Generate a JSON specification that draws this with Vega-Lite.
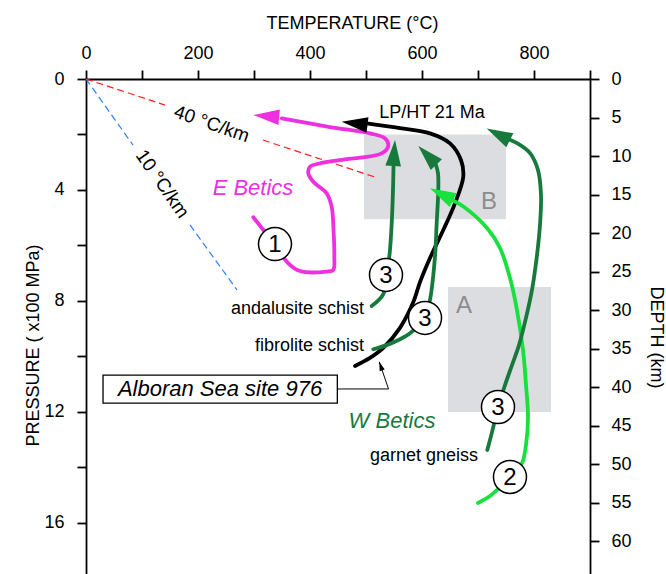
{
  "$schema": "https://vega.github.io/schema/vega-lite/v6.json",
  "width": 504,
  "height": 495,
  "autosize": {"type": "none"},
  "padding": {"left": 86, "top": 79, "right": 76, "bottom": 0},
  "config": {
    "view": {"stroke": null},
    "font": "Liberation Sans",
    "axis": {
      "labelFont": "Liberation Sans", "titleFont": "Liberation Sans",
      "labelFontSize": 18, "titleFontSize": 18, "titleFontWeight": "normal",
      "labelColor": "#000", "titleColor": "#000", "domainColor": "#000", "tickColor": "#000",
      "domainWidth": 1.8, "tickWidth": 1.8, "tickSize": 9, "grid": false, "labelOverlap": false, "labelFlush": false
    }
  },
  "datasets": {
    "paths": [
      {"path": "E", "suite": "E", "i": 1, "T": 298.7, "P": 4.98},
      {"path": "E", "suite": "E", "i": 2, "T": 337.5, "P": 5.98},
      {"path": "E", "suite": "E", "i": 3, "T": 361.3, "P": 6.64},
      {"path": "E", "suite": "E", "i": 4, "T": 382.1, "P": 6.92},
      {"path": "E", "suite": "E", "i": 5, "T": 429.8, "P": 6.94},
      {"path": "E", "suite": "E", "i": 6, "T": 441.6, "P": 6.88},
      {"path": "E", "suite": "E", "i": 7, "T": 443.4, "P": 6.40},
      {"path": "E", "suite": "E", "i": 8, "T": 442.0, "P": 5.44},
      {"path": "E", "suite": "E", "i": 9, "T": 438.7, "P": 4.60},
      {"path": "E", "suite": "E", "i": 10, "T": 429.8, "P": 4.12},
      {"path": "E", "suite": "E", "i": 11, "T": 405.9, "P": 3.70},
      {"path": "E", "suite": "E", "i": 12, "T": 397.0, "P": 3.40},
      {"path": "E", "suite": "E", "i": 13, "T": 400.0, "P": 3.16},
      {"path": "E", "suite": "E", "i": 14, "T": 417.9, "P": 3.04},
      {"path": "E", "suite": "E", "i": 15, "T": 465.5, "P": 2.89},
      {"path": "E", "suite": "E", "i": 16, "T": 528.0, "P": 2.68},
      {"path": "E", "suite": "E", "i": 17, "T": 539.8, "P": 2.41},
      {"path": "E", "suite": "E", "i": 18, "T": 533.9, "P": 2.14},
      {"path": "E", "suite": "E", "i": 19, "T": 507.1, "P": 1.96},
      {"path": "E", "suite": "E", "i": 20, "T": 435.7, "P": 1.73},
      {"path": "E", "suite": "E", "i": 21, "T": 349.5, "P": 1.42},
      {"path": "LP", "suite": "LP", "i": 1, "T": 501.2, "P": 1.60},
      {"path": "LP", "suite": "LP", "i": 2, "T": 560.7, "P": 1.77},
      {"path": "LP", "suite": "LP", "i": 3, "T": 614.3, "P": 1.96},
      {"path": "LP", "suite": "LP", "i": 4, "T": 650.0, "P": 2.32},
      {"path": "LP", "suite": "LP", "i": 5, "T": 669.6, "P": 2.92},
      {"path": "LP", "suite": "LP", "i": 6, "T": 673.7, "P": 3.52},
      {"path": "LP", "suite": "LP", "i": 7, "T": 658.9, "P": 4.48},
      {"path": "LP", "suite": "LP", "i": 8, "T": 638.0, "P": 5.44},
      {"path": "LP", "suite": "LP", "i": 9, "T": 614.3, "P": 6.45},
      {"path": "LP", "suite": "LP", "i": 10, "T": 596.4, "P": 7.32},
      {"path": "LP", "suite": "LP", "i": 11, "T": 584.5, "P": 8.04},
      {"path": "LP", "suite": "LP", "i": 12, "T": 560.7, "P": 8.97},
      {"path": "LP", "suite": "LP", "i": 13, "T": 530.9, "P": 9.69},
      {"path": "LP", "suite": "LP", "i": 14, "T": 507.1, "P": 10.05},
      {"path": "LP", "suite": "LP", "i": 15, "T": 480.4, "P": 10.34},
      {"path": "W2", "suite": "W2", "i": 1, "T": 700.0, "P": 15.28},
      {"path": "W2", "suite": "W2", "i": 2, "T": 721.4, "P": 15.03},
      {"path": "W2", "suite": "W2", "i": 3, "T": 742.9, "P": 14.63},
      {"path": "W2", "suite": "W2", "i": 4, "T": 760.7, "P": 14.27},
      {"path": "W2", "suite": "W2", "i": 5, "T": 778.6, "P": 13.84},
      {"path": "W2", "suite": "W2", "i": 6, "T": 785.7, "P": 13.19},
      {"path": "W2", "suite": "W2", "i": 7, "T": 789.3, "P": 12.18},
      {"path": "W2", "suite": "W2", "i": 8, "T": 785.7, "P": 11.03},
      {"path": "W2", "suite": "W2", "i": 9, "T": 780.4, "P": 9.77},
      {"path": "W2", "suite": "W2", "i": 10, "T": 767.9, "P": 8.14},
      {"path": "W2", "suite": "W2", "i": 11, "T": 757.1, "P": 7.17},
      {"path": "W2", "suite": "W2", "i": 12, "T": 739.3, "P": 6.09},
      {"path": "W2", "suite": "W2", "i": 13, "T": 716.1, "P": 5.37},
      {"path": "W2", "suite": "W2", "i": 14, "T": 675.0, "P": 4.61},
      {"path": "W2", "suite": "W2", "i": 15, "T": 642.9, "P": 4.25},
      {"path": "Wa", "suite": "W", "i": 1, "T": 510.2, "P": 8.18},
      {"path": "Wa", "suite": "W", "i": 2, "T": 530.9, "P": 7.75},
      {"path": "Wa", "suite": "W", "i": 3, "T": 535.7, "P": 7.06},
      {"path": "Wa", "suite": "W", "i": 4, "T": 541.6, "P": 6.40},
      {"path": "Wa", "suite": "W", "i": 5, "T": 545.9, "P": 5.20},
      {"path": "Wa", "suite": "W", "i": 6, "T": 548.2, "P": 4.00},
      {"path": "Wa", "suite": "W", "i": 7, "T": 549.1, "P": 3.16},
      {"path": "Wf", "suite": "W", "i": 1, "T": 513.0, "P": 9.74},
      {"path": "Wf", "suite": "W", "i": 2, "T": 537.0, "P": 9.59},
      {"path": "Wf", "suite": "W", "i": 3, "T": 560.7, "P": 9.38},
      {"path": "Wf", "suite": "W", "i": 4, "T": 578.6, "P": 9.16},
      {"path": "Wf", "suite": "W", "i": 5, "T": 605.4, "P": 8.62},
      {"path": "Wf", "suite": "W", "i": 6, "T": 614.3, "P": 7.96},
      {"path": "Wf", "suite": "W", "i": 7, "T": 623.2, "P": 6.40},
      {"path": "Wf", "suite": "W", "i": 8, "T": 626.2, "P": 5.20},
      {"path": "Wf", "suite": "W", "i": 9, "T": 629.1, "P": 4.00},
      {"path": "Wf", "suite": "W", "i": 10, "T": 628.6, "P": 3.40},
      {"path": "Wf", "suite": "W", "i": 11, "T": 625.0, "P": 3.10},
      {"path": "Wg", "suite": "W", "i": 1, "T": 716.6, "P": 13.37},
      {"path": "Wg", "suite": "W", "i": 2, "T": 726.8, "P": 12.58},
      {"path": "Wg", "suite": "W", "i": 3, "T": 735.7, "P": 11.82},
      {"path": "Wg", "suite": "W", "i": 4, "T": 748.2, "P": 11.03},
      {"path": "Wg", "suite": "W", "i": 5, "T": 760.7, "P": 10.31},
      {"path": "Wg", "suite": "W", "i": 6, "T": 773.2, "P": 9.59},
      {"path": "Wg", "suite": "W", "i": 7, "T": 785.7, "P": 8.61},
      {"path": "Wg", "suite": "W", "i": 8, "T": 796.4, "P": 7.60},
      {"path": "Wg", "suite": "W", "i": 9, "T": 805.4, "P": 6.34},
      {"path": "Wg", "suite": "W", "i": 10, "T": 810.7, "P": 5.26},
      {"path": "Wg", "suite": "W", "i": 11, "T": 812.5, "P": 4.18},
      {"path": "Wg", "suite": "W", "i": 12, "T": 807.1, "P": 3.28},
      {"path": "Wg", "suite": "W", "i": 13, "T": 792.9, "P": 2.67},
      {"path": "Wg", "suite": "W", "i": 14, "T": 769.6, "P": 2.31},
      {"path": "Wg", "suite": "W", "i": 15, "T": 753.6, "P": 2.16}
    ],
    "geotherms": [
      {"seg": "r1", "suite": "geo40", "i": 1, "T": 0, "P": 0},
      {"seg": "r1", "suite": "geo40", "i": 2, "T": 141.1, "P": 0.94},
      {"seg": "r2", "suite": "geo40", "i": 1, "T": 316.1, "P": 2.2},
      {"seg": "r2", "suite": "geo40", "i": 2, "T": 521.4, "P": 3.57},
      {"seg": "b1", "suite": "geo10", "i": 1, "T": 0, "P": 0},
      {"seg": "b1", "suite": "geo10", "i": 2, "T": 83.9, "P": 2.38},
      {"seg": "b2", "suite": "geo10", "i": 1, "T": 185.7, "P": 5.26},
      {"seg": "b2", "suite": "geo10", "i": 2, "T": 269.6, "P": 7.60}
    ],
    "arrows": [
      {"suite": "E", "T": 298.7, "P": 1.30, "heading": 275},
      {"suite": "LP", "T": 456.6, "P": 1.54, "heading": 277},
      {"suite": "W2", "T": 614.3, "P": 3.94, "heading": 297},
      {"suite": "W", "T": 551.8, "P": 2.20, "heading": 4},
      {"suite": "W", "T": 593.4, "P": 2.41, "heading": 316},
      {"suite": "W", "T": 715.5, "P": 1.78, "heading": 297}
    ],
    "circles": [
      {"label": "1", "T": 337.5, "P": 5.95},
      {"label": "3", "T": 535.7, "P": 7.06},
      {"label": "3", "T": 605.4, "P": 8.61},
      {"label": "3", "T": 735.7, "P": 11.82},
      {"label": "2", "T": 757.1, "P": 14.34}
    ]
  },
  "layer": [
    {
      "encoding": {
        "x": {
          "field": "T", "type": "quantitative",
          "scale": {"domain": [0, 900], "nice": false, "zero": false},
          "axis": {
            "orient": "top",
            "values": [0, 100, 200, 300, 400, 500, 600, 700, 800, 900],
            "labelExpr": "datum.value % 200 === 0 && datum.value < 900 ? datum.label : ''",
            "title": "TEMPERATURE (°C)",
            "labelPadding": 8,
            "titleX": 266, "titleY": -51, "titleBaseline": "alphabetic", "titleAlign": "center"
          }
        },
        "y": {
          "field": "P", "type": "quantitative",
          "scale": {"domain": [0, 17.838], "reverse": true, "nice": false, "zero": false},
          "axis": {
            "orient": "left",
            "values": [0, 2, 4, 6, 8, 10, 12, 14, 16],
            "labelExpr": "datum.value % 4 === 0 ? datum.label : ''",
            "title": "PRESSURE ( x100 MPa)",
            "labelPadding": 13,
            "titleX": -48, "titleY": 266, "titleAngle": 270, "titleBaseline": "alphabetic", "titleAlign": "center"
          }
        }
      },
      "layer": [
        {
          "data": {"values": [
            {"box": "A", "T": 646.4, "T2": 830.4, "P": 7.5, "P2": 12.0},
            {"box": "B", "T": 496.4, "T2": 750.0, "P": 2.0, "P2": 5.05}
          ]},
          "mark": {"type": "rect", "fill": "#dcdde0"},
          "encoding": {"x2": {"field": "T2"}, "y2": {"field": "P2"}}
        },
        {
          "data": {"name": "geotherms"},
          "mark": {"type": "line", "strokeWidth": 1.2, "strokeDash": [7, 4]},
          "encoding": {
            "detail": {"field": "seg"},
            "order": {"field": "i", "type": "quantitative"},
            "color": {"field": "suite", "type": "nominal", "legend": null,
              "scale": {"domain": ["E", "LP", "W", "W2", "geo40", "geo10"], "range": ["#ee30e0", "#000000", "#177a3c", "#18e03c", "#ff2020", "#2a7fff"]}}
          }
        },
        {
          "data": {"values": [{"T": 30.4, "T2": 448.8, "P": 10.67, "P2": 11.68}]},
          "mark": {"type": "rect", "fill": "white", "stroke": "black", "strokeWidth": 1.3},
          "encoding": {"x2": {"field": "T2"}, "y2": {"field": "P2"}}
        },
        {
          "data": {"values": [
            {"i": 1, "T": 448.8, "P": 11.17},
            {"i": 2, "T": 540.2, "P": 11.17},
            {"i": 3, "T": 523.7, "P": 10.19}
          ]},
          "mark": {"type": "line", "strokeWidth": 1, "color": "black"},
          "encoding": {"order": {"field": "i", "type": "quantitative"}}
        },
        {
          "data": {"values": [{"T": 523.7, "P": 10.19, "heading": 341}]},
          "mark": {"type": "point", "shape": "M0,0L0.6,2L-0.6,2Z", "size": 81, "filled": true, "color": "black", "opacity": 1, "strokeWidth": 0},
          "encoding": {"angle": {"field": "heading", "type": "quantitative", "scale": null}}
        },
        {
          "data": {"name": "paths"},
          "mark": {"type": "line", "strokeWidth": 3.8, "interpolate": "catmull-rom", "strokeCap": "round", "strokeJoin": "round"},
          "encoding": {
            "detail": {"field": "path"},
            "order": {"field": "i", "type": "quantitative"},
            "color": {"field": "suite", "type": "nominal", "legend": null,
              "scale": {"domain": ["E", "LP", "W", "W2", "geo40", "geo10"], "range": ["#ee30e0", "#000000", "#177a3c", "#18e03c", "#ff2020", "#2a7fff"]}}
          }
        },
        {
          "data": {"name": "arrows"},
          "mark": {"type": "point", "shape": "M0,0L0.6,2L-0.6,2Z", "size": 676, "filled": true, "opacity": 1, "strokeWidth": 0},
          "encoding": {
            "angle": {"field": "heading", "type": "quantitative", "scale": null},
            "color": {"field": "suite", "type": "nominal", "legend": null,
              "scale": {"domain": ["E", "LP", "W", "W2", "geo40", "geo10"], "range": ["#ee30e0", "#000000", "#177a3c", "#18e03c", "#ff2020", "#2a7fff"]}}
          }
        },
        {
          "data": {"name": "circles"},
          "mark": {"type": "point", "shape": "circle", "size": 1089, "filled": true, "fill": "white", "stroke": "black", "strokeWidth": 1.5, "opacity": 1}
        },
        {
          "data": {"name": "circles"},
          "mark": {"type": "text", "fontSize": 24, "font": "Liberation Sans", "color": "black", "align": "center", "baseline": "middle", "dy": 1},
          "encoding": {"text": {"field": "label"}}
        },
        {
          "data": {"values": [
            {"label": "LP/HT 21 Ma", "T": 617.9, "P": 1.23},
            {"label": "garnet gneiss", "T": 603.6, "P": 13.59}
          ]},
          "mark": {"type": "text", "fontSize": 18, "font": "Liberation Sans", "color": "black", "align": "center", "baseline": "middle"},
          "encoding": {"text": {"field": "label"}}
        },
        {
          "data": {"values": [
            {"label": "andalusite schist", "T": 496.4, "P": 8.29},
            {"label": "fibrolite schist", "T": 496.4, "P": 9.62}
          ]},
          "mark": {"type": "text", "fontSize": 18, "font": "Liberation Sans", "color": "black", "align": "right", "baseline": "middle"},
          "encoding": {"text": {"field": "label"}}
        },
        {
          "data": {"values": [
            {"label": "E Betics", "suite": "E", "T": 298.2, "P": 3.93},
            {"label": "W Betics", "suite": "W", "T": 546.4, "P": 12.31},
            {"label": "Alboran Sea site 976", "suite": "LP", "T": 239.3, "P": 11.17}
          ]},
          "mark": {"type": "text", "fontSize": 22, "font": "Liberation Sans", "fontStyle": "italic", "align": "center", "baseline": "middle"},
          "encoding": {
            "text": {"field": "label"},
            "color": {"field": "suite", "type": "nominal", "legend": null,
              "scale": {"domain": ["E", "LP", "W", "W2", "geo40", "geo10"], "range": ["#ee30e0", "#000000", "#177a3c", "#18e03c", "#ff2020", "#2a7fff"]}}
          }
        },
        {
          "data": {"values": [
            {"label": "A", "T": 675.0, "P": 8.18},
            {"label": "B", "T": 719.6, "P": 4.43}
          ]},
          "mark": {"type": "text", "fontSize": 24, "font": "Liberation Sans", "color": "#8c8c8c", "align": "center", "baseline": "middle"},
          "encoding": {"text": {"field": "label"}}
        },
        {
          "data": {"values": [
            {"label": "40 °C/km", "T": 224.5, "P": 1.62, "heading": 19},
            {"label": "10 °C/km", "T": 136.3, "P": 3.78, "heading": 55}
          ]},
          "mark": {"type": "text", "fontSize": 19, "font": "Liberation Sans", "color": "black", "align": "center", "baseline": "middle"},
          "encoding": {
            "text": {"field": "label"},
            "angle": {"field": "heading", "type": "quantitative", "scale": null}
          }
        }
      ]
    },
    {
      "data": {"values": [{"D": 0}, {"D": 64.22}]},
      "mark": {"type": "point", "opacity": 0},
      "encoding": {
        "y": {
          "field": "D", "type": "quantitative",
          "scale": {"domain": [0, 64.22], "reverse": true, "nice": false, "zero": false},
          "axis": {
            "orient": "right",
            "values": [0, 5, 10, 15, 20, 25, 30, 35, 40, 45, 50, 55, 60],
            "title": "DEPTH (km)",
            "labelPadding": 12,
            "titleX": 60, "titleY": 258, "titleAngle": 90, "titleBaseline": "alphabetic", "titleAlign": "center"
          }
        }
      }
    }
  ],
  "resolve": {"scale": {"y": "independent"}}
}
